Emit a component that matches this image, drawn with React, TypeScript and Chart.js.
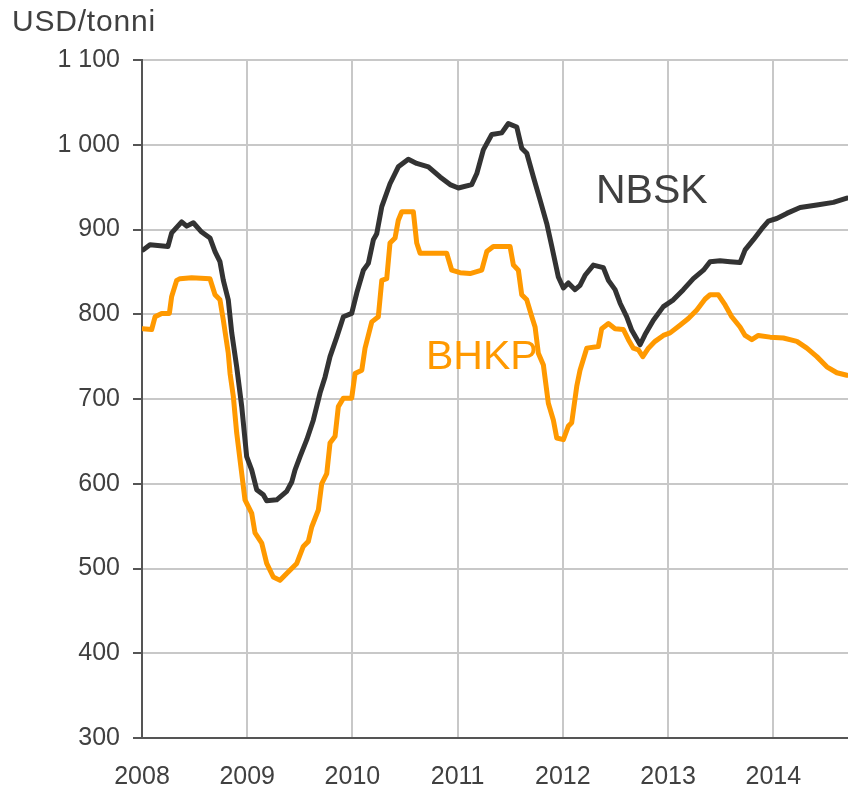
import React, { useEffect, useRef } from "react";
import { Chart, registerables } from "chart.js";

Chart.register(...registerables);

// ---- Data (decimal years, USD/tonne) ----
const nbskYears = [
  2008.012, 2008.076, 2008.247, 2008.282, 2008.377, 2008.425, 2008.488, 2008.567, 2008.646, 2008.694,
  2008.741, 2008.773, 2008.82, 2008.853, 2008.9, 2008.948, 2008.995, 2009.043, 2009.09, 2009.153,
  2009.185, 2009.28, 2009.375, 2009.423, 2009.454, 2009.502, 2009.566, 2009.628, 2009.692, 2009.74,
  2009.787, 2009.851, 2009.914, 2009.993, 2010.041, 2010.104, 2010.151, 2010.199, 2010.231, 2010.279,
  2010.357, 2010.436, 2010.531, 2010.611, 2010.722, 2010.833, 2010.928, 2011.007, 2011.134, 2011.182,
  2011.244, 2011.324, 2011.419, 2011.482, 2011.562, 2011.609, 2011.657, 2011.72, 2011.783, 2011.847,
  2011.895, 2011.957, 2012.005, 2012.052, 2012.116, 2012.163, 2012.211, 2012.29, 2012.385, 2012.433,
  2012.496, 2012.544, 2012.607, 2012.655, 2012.734, 2012.781, 2012.86, 2012.955, 2013.05, 2013.145,
  2013.24, 2013.336, 2013.399, 2013.494, 2013.589, 2013.684, 2013.732, 2013.811, 2013.891, 2013.953,
  2014.033, 2014.128, 2014.255, 2014.414, 2014.571, 2014.699,
];
const nbskValues = [
  876, 882, 880, 896, 909, 904, 908, 897, 890, 874,
  862, 840, 817, 778, 738, 691, 632, 616, 593, 587,
  580, 581, 591, 602, 616, 632, 652, 675, 707, 726,
  750, 773, 797, 801, 825, 852, 860, 888, 895, 927,
  954, 974, 983, 978, 974, 962, 953, 949, 953, 966,
  994, 1012, 1014, 1025, 1021, 996, 990, 962, 935, 907,
  880, 844, 831, 837, 829, 834, 846, 858, 855, 840,
  829, 813, 797, 781, 764, 776, 793, 809, 817, 829,
  842, 852, 862, 863, 862, 861, 876, 888, 901, 910,
  913, 919, 926, 929, 932, 937,
];

const bhkpYears = [
  2008.007, 2008.092, 2008.124, 2008.187, 2008.26, 2008.282, 2008.33, 2008.361, 2008.472, 2008.646,
  2008.694, 2008.741, 2008.773, 2008.82, 2008.837, 2008.868, 2008.9, 2008.948, 2008.979, 2009.043,
  2009.074, 2009.138, 2009.185, 2009.248, 2009.312, 2009.375, 2009.471, 2009.533, 2009.581, 2009.613,
  2009.676, 2009.708, 2009.756, 2009.787, 2009.835, 2009.866, 2009.914, 2009.993, 2010.025, 2010.089,
  2010.12, 2010.184, 2010.246, 2010.279, 2010.326, 2010.357, 2010.405, 2010.436, 2010.469, 2010.579,
  2010.611, 2010.643, 2010.896, 2010.944, 2011.023, 2011.118, 2011.229, 2011.277, 2011.339, 2011.498,
  2011.53, 2011.577, 2011.609, 2011.657, 2011.705, 2011.736, 2011.767, 2011.815, 2011.862, 2011.91,
  2011.942, 2012.005, 2012.052, 2012.084, 2012.132, 2012.163, 2012.227, 2012.337, 2012.369, 2012.433,
  2012.496, 2012.575, 2012.623, 2012.67, 2012.718, 2012.76, 2012.813, 2012.876, 2012.955, 2013.019,
  2013.113, 2013.193, 2013.273, 2013.352, 2013.399, 2013.478, 2013.542, 2013.605, 2013.684, 2013.732,
  2013.796, 2013.858, 2013.97, 2014.096, 2014.224, 2014.319, 2014.414, 2014.509, 2014.604, 2014.699,
];
const bhkpValues = [
  783, 782, 797, 801, 801, 821, 840, 842, 843, 842,
  823, 817, 793, 754, 730, 703, 660, 612, 581, 565,
  542, 530, 506, 490, 486, 494, 506, 526, 532, 549,
  569, 600, 612, 648, 656, 691, 701, 701, 730, 734,
  760, 791, 797, 840, 842, 884, 890, 911, 921, 921,
  884, 872, 872, 852, 849, 848, 852, 874, 880, 880,
  858, 852, 823, 817, 797, 785, 754, 740, 695, 675,
  654, 652, 668, 672, 715, 734, 760, 762, 783, 789,
  783, 782, 770, 760, 758, 750, 760, 768, 775, 778,
  787, 795, 805, 818, 823, 823, 811, 797, 785, 775,
  770, 775, 773, 772, 768, 760, 750, 738, 731, 728,
];

const xMin = 2008;
const xMax = 2014.71;
const yTickValues = [300, 400, 500, 600, 700, 800, 900, 1000, 1100];
const yTickLabels = ["300", "400", "500", "600", "700", "800", "900", "1 000", "1 100"];

const FONT = "'Liberation Sans', Arial, sans-serif";
const TEXT = "#404040";

export default function App() {
  const ref = useRef<HTMLCanvasElement | null>(null);

  useEffect(() => {
    if (!ref.current) return;
    const chart = new Chart(ref.current, {
      type: "line",
      data: {
        datasets: [
          {
            label: "NBSK",
            data: nbskYears.map((x, i) => ({ x, y: nbskValues[i] })),
            borderColor: "#333333",
            borderWidth: 5,
            pointRadius: 0,
            tension: 0,
            borderJoinStyle: "round",
            borderCapStyle: "round",
          },
          {
            label: "BHKP",
            data: bhkpYears.map((x, i) => ({ x, y: bhkpValues[i] })),
            borderColor: "#FF9900",
            borderWidth: 5,
            pointRadius: 0,
            tension: 0,
            borderJoinStyle: "round",
            borderCapStyle: "round",
          },
        ],
      },
      options: {
        responsive: false,
        animation: false,
        devicePixelRatio: 1,
        layout: { padding: { left: 0, right: 0, top: 60, bottom: 0 } },
        plugins: { legend: { display: false }, tooltip: { enabled: false } },
        scales: {
          x: {
            type: "linear",
            min: xMin,
            max: xMax,
            afterFit: (s: any) => {
              s.height = 51;
            },
            ticks: {
              stepSize: 1,
              includeBounds: false,
              autoSkip: false,
              maxRotation: 0,
              padding: 24,
              color: TEXT,
              font: { family: FONT, size: 25 },
              callback: (v: any) => String(v),
            },
            grid: {
              color: "#c8c8c8",
              lineWidth: 2,
              drawTicks: false,
            },
            border: { color: "#555555", width: 2 },
          },
          y: {
            type: "linear",
            min: 300,
            max: 1100,
            afterFit: (s: any) => {
              s.width = 142;
            },
            afterBuildTicks: (s: any) => {
              s.ticks = yTickValues.map((v) => ({ value: v }));
            },
            ticks: {
              padding: 13,
              color: TEXT,
              font: { family: FONT, size: 25 },
              callback: (v: any) => {
                const i = yTickValues.indexOf(Number(v));
                return i >= 0 ? yTickLabels[i] : "";
              },
            },
            grid: {
              color: "#c8c8c8",
              lineWidth: 2,
              tickColor: "#555555",
              tickLength: 9,
              tickWidth: 2,
            },
            border: { color: "#555555", width: 2 },
          },
        },
      },
    });
    return () => chart.destroy();
  }, []);

  const label = (text: string, left: number, top: number, size: number, color: string, spacing = 0) => (
    <div
      style={{
        position: "absolute",
        left,
        top,
        fontFamily: FONT,
        fontSize: size,
        lineHeight: `${size}px`,
        letterSpacing: spacing,
        color,
        whiteSpace: "nowrap",
      }}
    >
      {text}
    </div>
  );

  return (
    <div style={{ position: "absolute", left: 0, top: 0, width: 848, height: 789, background: "#fff", overflow: "hidden" }}>
      <canvas ref={ref} width={848} height={789} style={{ position: "absolute", left: 0, top: 0 }} />
      {label("USD/tonni", 12, 6, 30, TEXT, 0.8)}
      {label("NBSK", 596, 169, 41, TEXT)}
      {label("BHKP", 426, 335, 41, "#FF9900")}
    </div>
  );
}
